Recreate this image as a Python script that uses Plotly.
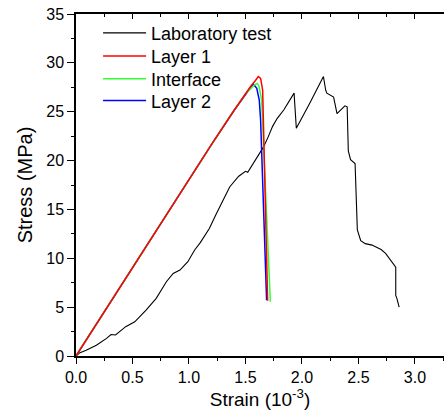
import plotly.graph_objects as go

# Laboratory test curve
lab_strain = [0, 0.03, 0.09, 0.18, 0.27, 0.31, 0.35, 0.44, 0.52, 0.62, 0.71, 0.80, 0.86, 0.92, 0.99,
              1.05, 1.10, 1.18, 1.24, 1.29, 1.36, 1.44, 1.47, 1.50, 1.52, 1.62, 1.66, 1.70, 1.74, 1.78,
              1.84, 1.93, 1.95, 2.07, 2.19, 2.21, 2.22, 2.28, 2.31, 2.38, 2.40, 2.41, 2.43, 2.47, 2.48,
              2.49, 2.52, 2.56, 2.62, 2.70, 2.74, 2.81, 2.83, 2.83, 2.84, 2.86]
lab_stress = [0, 0.3, 0.6, 1.1, 1.8, 2.2, 2.15, 3.0, 3.5, 4.7, 5.9, 7.6, 8.45, 8.8, 9.65,
              10.85, 11.6, 13.05, 14.5, 15.6, 17.3, 18.4, 18.7, 18.9, 18.8, 20.75, 21.4, 22.4, 23.5, 24.3,
              25.2, 26.9, 23.3, 25.9, 28.6, 27.2, 26.9, 26.5, 24.8, 25.6, 25.5, 21.0, 20.1, 19.7, 15.6,
              12.9, 11.8, 11.5, 11.35, 10.9, 10.5, 9.5, 9.1, 6.2, 5.9, 5.0]

# Simulated curves
l1_strain = [0, 0.5, 1.0, 1.2, 1.4, 1.5, 1.55, 1.585, 1.613, 1.634, 1.652, 1.696]
l1_stress = [0, 9.05, 18.1, 21.65, 25.15, 26.85, 27.65, 28.15, 28.6, 28.4, 27.2, 5.66]

if_strain = [0, 0.5, 1.0, 1.2, 1.4, 1.5, 1.55, 1.58, 1.605, 1.62, 1.643, 1.72]
if_stress = [0, 9.05, 18.1, 21.65, 25.15, 26.85, 27.4, 27.75, 27.9, 27.6, 26.2, 5.56]

l2_strain = [0, 0.5, 1.0, 1.2, 1.4, 1.5, 1.54, 1.569, 1.60, 1.622, 1.634, 1.687]
l2_stress = [0, 9.05, 18.1, 21.65, 25.15, 26.85, 27.4, 27.84, 27.4, 26.2, 24.15, 5.7]

x_ticks = [0.0, 0.5, 1.0, 1.5, 2.0, 2.5, 3.0]
y_ticks = [0, 5, 10, 15, 20, 25, 30, 35]

FONT = "Liberation Sans, Arial, sans-serif"

fig = go.Figure()
fig.add_trace(go.Scatter(x=lab_strain, y=lab_stress, mode="lines", name="Laboratory test",
                         line=dict(color="black", width=1.1), legend="legend"))
fig.add_trace(go.Scatter(x=l2_strain, y=l2_stress, mode="lines", name="Layer 2",
                         line=dict(color="#0000ff", width=1.5), legend="legend4"))
fig.add_trace(go.Scatter(x=if_strain, y=if_stress, mode="lines", name="Interface",
                         line=dict(color="#33ff33", width=1.5), legend="legend3"))
fig.add_trace(go.Scatter(x=l1_strain, y=l1_stress, mode="lines", name="Layer 1",
                         line=dict(color="#ff0000", width=1.5), legend="legend2"))
# invisible trace to carry the top axis
fig.add_trace(go.Scatter(x=[0], y=[0], xaxis="x2", mode="markers", marker=dict(opacity=0),
                         showlegend=False, hoverinfo="skip"))

def leg(yv):
    return dict(x=0.06, y=yv, xanchor="left", yanchor="middle",
                bgcolor="rgba(0,0,0,0)", font=dict(size=18, family=FONT),
                tracegroupgap=0, itemwidth=43)

fig.update_layout(
    width=444, height=417,
    margin=dict(l=76, r=0, t=14, b=61),
    paper_bgcolor="white", plot_bgcolor="white",
    font=dict(family=FONT, size=16, color="black"),
    showlegend=True,
    legend=leg(0.944), legend2=leg(0.876), legend3=leg(0.810), legend4=leg(0.746),
    xaxis=dict(range=[0, 3.257], tickvals=x_ticks, ticktext=[f"{v:.1f}" for v in x_ticks],
               showgrid=False, zeroline=False, showline=True, linecolor="black", linewidth=1.5,
               ticks="outside", ticklen=6, tickwidth=1.2, tickcolor="black", automargin=False,
               ticklabeloverflow="allow",
               minor=dict(dtick=0.25, tick0=0, ticks="outside", ticklen=3, tickcolor="black"),
               title=dict(text="Strain (10<sup>-3</sup>)", font=dict(size=19), standoff=3),
               tickfont=dict(size=16)),
    xaxis2=dict(range=[0, 3.257], overlaying="x", side="top", showticklabels=False,
                showgrid=False, zeroline=False, showline=True, linecolor="black", linewidth=1.5,
                ticks="inside", tickvals=x_ticks, ticklen=5, tickwidth=1.2, tickcolor="black",
                automargin=False,
                minor=dict(dtick=0.25, tick0=0, ticks="inside", ticklen=3, tickcolor="black")),
    yaxis=dict(range=[0, 35], tickvals=y_ticks, automargin=False, ticklabeloverflow="allow",
               showgrid=False, zeroline=False, showline=True, linecolor="black", linewidth=1.5,
               ticks="outside", ticklen=7, tickwidth=1.2, tickcolor="black",
               minor=dict(dtick=2.5, tick0=0, ticks="outside", ticklen=3, tickcolor="black"),
               title=dict(text="Stress (MPa)", font=dict(size=20), standoff=8),
               tickfont=dict(size=16)),
)

fig.write_html("out.html", config={"displayModeBar": False},
               post_script="document.body.style.margin='0px';")
